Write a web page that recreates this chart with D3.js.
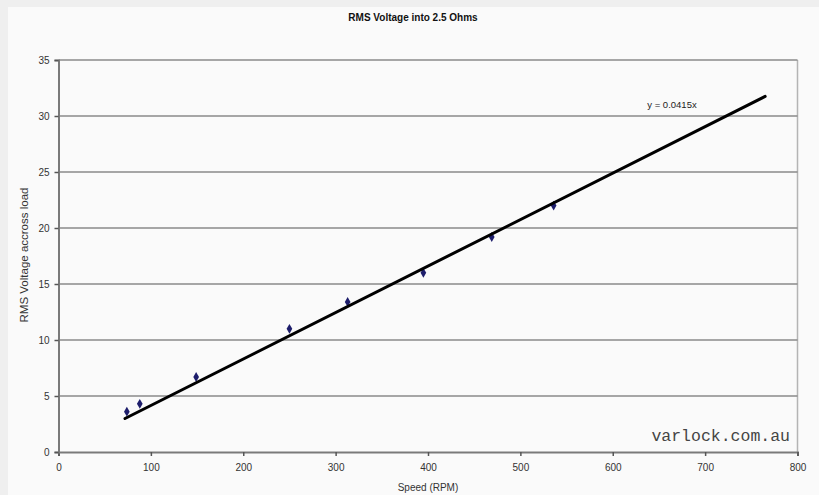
<!DOCTYPE html>
<html>
<head>
<meta charset="utf-8">
<script src="https://cdn.jsdelivr.net/npm/d3@7"></script>
<style>
  body { margin: 0; background: #efefef; }
  svg { display: block; }
  text { font-family: "Liberation Sans", Arial, sans-serif; }
</style>
</head>
<body>
<svg id="chart" width="819" height="495"></svg>
<script>

const speedRpm = [74, 88, 149, 250, 313, 395, 469, 536];
const rmsVolts = [3.6, 4.3, 6.7, 11.0, 13.4, 16.0, 19.2, 22.0];

const trendSlope = 0.0415;
const trendRange = [72, 765];

const xTicks = [0, 100, 200, 300, 400, 500, 600, 700, 800];
const yTicks = [0, 5, 10, 15, 20, 25, 30, 35];

const titleText = 'RMS Voltage into 2.5 Ohms';
const xTitle = 'Speed (RPM)';
const yTitle = 'RMS Voltage accross load';
const equationText = 'y = 0.0415x';
const watermark = 'varlock.com.au';

const svg = d3.select('#chart');

const plot = {left: 58.5, right: 797.5, top: 60, bottom: 452};

const x = d3.scaleLinear().domain([0, 800]).range([plot.left, plot.right]);
const y = d3.scaleLinear().domain([0, 35]).range([plot.bottom, plot.top]);

// chart panel
svg.append('rect')
    .attr('x', 8)
    .attr('y', 7)
    .attr('width', 811)
    .attr('height', 488)
    .style('fill', '#fafafa');

svg.append('text')
    .attr('x', 413)
    .attr('y', 21)
    .attr('text-anchor', 'middle')
    .style('font-size', '10px')
    .style('font-weight', 'bold')
    .style('fill', '#111')
    .text(titleText);

// right border of plot area
svg.append('line')
    .attr('x1', plot.right).attr('x2', plot.right)
    .attr('y1', plot.top).attr('y2', plot.bottom)
    .style('stroke', '#b4b4b4')
    .style('stroke-width', 1.5);

// gridlines
svg.append('g')
    .selectAll('line')
    .data(yTicks.filter(d => d > 0))
    .enter()
    .append('line')
    .attr('x1', plot.left)
    .attr('x2', plot.right)
    .attr('y1', d => y(d))
    .attr('y2', d => y(d))
    .style('stroke', '#8a8a8a')
    .style('stroke-width', 1.5);

// axes
const xAxis = svg.append('g')
    .attr('transform', 'translate(0,' + plot.bottom + ')')
    .call(d3.axisBottom(x).tickValues(xTicks).tickSize(4).tickPadding(8).tickFormat(d3.format('d')));

const yAxis = svg.append('g')
    .attr('transform', 'translate(' + plot.left + ',0)')
    .call(d3.axisLeft(y).tickValues(yTicks).tickSize(4).tickPadding(5).tickFormat(d3.format('d')));

[xAxis, yAxis].forEach(function (a) {
    a.select('.domain').style('stroke', '#7a7a7a').style('stroke-width', 2);
    a.selectAll('.tick line').style('stroke', '#555').style('stroke-width', 1.5);
    a.selectAll('.tick text')
        .style('font-family', '"Liberation Sans", Arial, sans-serif')
        .style('font-size', '10px')
        .style('fill', '#333');
});

svg.append('text')
    .attr('x', 428)
    .attr('y', 491)
    .attr('text-anchor', 'middle')
    .style('font-size', '10px')
    .style('fill', '#333')
    .text(xTitle);

svg.append('text')
    .attr('transform', 'translate(28,255) rotate(-90)')
    .attr('text-anchor', 'middle')
    .style('font-size', '11.5px')
    .style('fill', '#333')
    .text(yTitle);

// data points
svg.append('g')
    .selectAll('path')
    .data(speedRpm.map((s, i) => [s, rmsVolts[i]]))
    .enter()
    .append('path')
    .attr('transform', d => 'translate(' + x(d[0]) + ',' + y(d[1]) + ')')
    .attr('d', d3.symbol().type(d3.symbolDiamond).size(28))
    .style('fill', '#1d1d6b');

// trendline
svg.append('path')
    .datum(trendRange.map(v => [v, v * trendSlope]))
    .attr('d', d3.line().x(d => x(d[0])).y(d => y(d[1])))
    .style('fill', 'none')
    .style('stroke', '#000')
    .style('stroke-width', 3)
    .style('stroke-linecap', 'round');

svg.append('text')
    .attr('x', 672)
    .attr('y', 108)
    .attr('text-anchor', 'middle')
    .style('font-size', '9.5px')
    .style('fill', '#222')
    .text(equationText);

svg.append('text')
    .attr('x', 790)
    .attr('y', 441)
    .attr('text-anchor', 'end')
    .style('font-family', '"Liberation Mono", "DejaVu Sans Mono", monospace')
    .style('font-size', '16.5px')
    .style('fill', '#444')
    .text(watermark);

</script>
</body>
</html>
